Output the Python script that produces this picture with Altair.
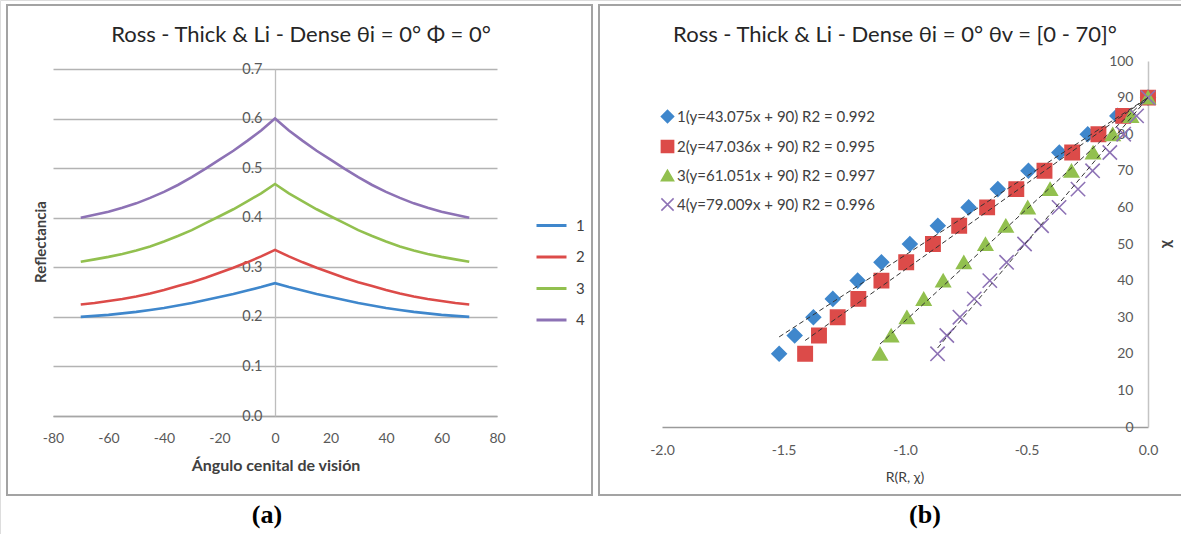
import altair as alt
import pandas as pd

# ---------------- data: panel (a) ----------------
angles = [-70, -65, -60, -55, -50, -45, -40, -35, -30, -25, -20, -15, -10, -5, 0,
          5, 10, 15, 20, 25, 30, 35, 40, 45, 50, 55, 60, 65, 70]
refl_1 = [0.200, 0.202, 0.204, 0.207, 0.210, 0.214, 0.218, 0.223, 0.228, 0.234, 0.240, 0.246, 0.253, 0.260, 0.268,
          0.260, 0.253, 0.246, 0.240, 0.234, 0.228, 0.223, 0.218, 0.214, 0.210, 0.207, 0.204, 0.202, 0.200]
refl_2 = [0.225, 0.228, 0.232, 0.236, 0.241, 0.247, 0.254, 0.262, 0.270, 0.279, 0.289, 0.299, 0.310, 0.322, 0.335,
          0.322, 0.310, 0.299, 0.289, 0.279, 0.270, 0.262, 0.254, 0.247, 0.241, 0.236, 0.232, 0.228, 0.225]
refl_3 = [0.311, 0.316, 0.321, 0.327, 0.334, 0.342, 0.352, 0.363, 0.375, 0.389, 0.403, 0.417, 0.433, 0.449, 0.468,
          0.449, 0.433, 0.417, 0.403, 0.389, 0.375, 0.363, 0.352, 0.342, 0.334, 0.327, 0.321, 0.316, 0.311]
refl_4 = [0.400, 0.406, 0.412, 0.420, 0.429, 0.440, 0.452, 0.466, 0.482, 0.499, 0.517, 0.535, 0.555, 0.576, 0.600,
          0.576, 0.555, 0.535, 0.517, 0.499, 0.482, 0.466, 0.452, 0.440, 0.429, 0.420, 0.412, 0.406, 0.400]
series_a = ["1", "2", "3", "4"]
x_ticks_a = [-80, -60, -40, -20, 0, 20, 40, 60, 80]
y_ticks_a = [0.0, 0.1, 0.2, 0.3, 0.4, 0.5, 0.6, 0.7]

# ---------------- data: panel (b) ----------------
chi = [20, 25, 30, 35, 40, 45, 50, 55, 60, 65, 70, 75, 80, 85, 90]
rr_1 = [-1.518, -1.454, -1.377, -1.297, -1.195, -1.097, -0.980, -0.865, -0.738, -0.618, -0.492, -0.365, -0.248, -0.126, 0.0]
rr_2 = [-1.411, -1.354, -1.277, -1.192, -1.097, -0.995, -0.885, -0.777, -0.662, -0.542, -0.426, -0.312, -0.204, -0.102, 0.0]
rr_3 = [-1.103, -1.057, -0.992, -0.923, -0.843, -0.758, -0.669, -0.585, -0.495, -0.403, -0.315, -0.226, -0.145, -0.070, 0.0]
rr_4 = [-0.866, -0.828, -0.774, -0.715, -0.651, -0.582, -0.508, -0.438, -0.366, -0.288, -0.228, -0.157, -0.100, -0.047, 0.0]
slopes = [43.075, 47.036, 61.051, 79.009]
intercept = 90
series_b = ["1(y=43.075x + 90) R2 = 0.992",
            "2(y=47.036x + 90) R2 = 0.995",
            "3(y=61.051x + 90) R2 = 0.997",
            "4(y=79.009x + 90) R2 = 0.996"]
x_ticks_b = [-2.0, -1.5, -1.0, -0.5, 0.0]
y_ticks_b = [0, 10, 20, 30, 40, 50, 60, 70, 80, 90, 100]

colors = ["#3F87CC", "#DC4B49", "#92C04F", "#8D72B5"]
FONT = "Lato"
LBL = "#595959"
AX = "#A6A6A6"

# ---------------- tables ----------------
rows = []
for s, vals in zip(series_a, [refl_1, refl_2, refl_3, refl_4]):
    for a, v in zip(angles, vals):
        rows.append({"ang": a, "refl": v, "serie": s})
df_a = pd.DataFrame(rows)

rows = []
for s, vals in zip(series_b, [rr_1, rr_2, rr_3, rr_4]):
    for c, v in zip(chi, vals):
        rows.append({"rr": v, "chi": c, "serie": s})
df_b = pd.DataFrame(rows)

rows = []
for s, vals, m in zip(series_b, [rr_1, rr_2, rr_3, rr_4], slopes):
    xmin = min(vals)
    rows.append({"rr": xmin, "chi": m * xmin + intercept, "serie": s})
    rows.append({"rr": 0.0, "chi": float(intercept), "serie": s})
df_t = pd.DataFrame(rows)

# ---------------- panel (a) ----------------
xa_scale = alt.Scale(domain=[-80, 80], range=[53, 497], nice=False, zero=False)
ya_scale = alt.Scale(domain=[0, 0.7], range=[416, 69], nice=False, zero=False)

panel_a = alt.Chart(df_a).mark_line(strokeWidth=2.6).encode(
    x=alt.X("ang:Q", scale=xa_scale,
            axis=alt.Axis(orient="bottom", offset=-118, values=x_ticks_a, grid=False, ticks=False,
                          domain=True, domainColor=AX, domainWidth=1.5, labelPadding=15,
                          labelFontSize=14, labelColor=LBL, labelFont=FONT, title=None,
                          labelFlush=False, labelOverlap=False,
                          labelExpr="datum.value < 0 ? '-' + format(-datum.value, 'd') : format(datum.value, 'd')")),
    y=alt.Y("refl:Q", scale=ya_scale,
            axis=alt.Axis(orient="left", offset=-275, values=y_ticks_a, grid=True, gridColor="#B3B3B3",
                          gridWidth=1.4, ticks=False, domain=True, domainColor="#BDBDBD", domainWidth=1.3,
                          labelPadding=13, format=".1f", labelFontSize=14.5, labelColor=LBL,
                          labelFont=FONT, title=None, labelFlush=False, labelOverlap=False)),
    color=alt.Color("serie:N", scale=alt.Scale(domain=series_a, range=colors),
                    legend=alt.Legend(orient="none", legendX=535, legendY=209, title=None,
                                      symbolType="stroke", symbolSize=900, symbolStrokeWidth=3,
                                      labelFontSize=15, labelFont=FONT, labelColor="#404040",
                                      rowPadding=6.5, labelOffset=8, padding=0)),
    detail="serie:N",
)

# ---------------- panel (b) ----------------
xb_scale = alt.Scale(domain=[-2.0, 0.0], range=[662, 1148], nice=False, zero=False)
yb_scale = alt.Scale(domain=[0, 100], range=[427, 61], nice=False, zero=False)
xb_axis = alt.Axis(orient="bottom", offset=-107, values=x_ticks_b, grid=False, ticks=False,
                   domain=True, domainColor="#9A9A9A", domainWidth=1.5, labelPadding=16,
                   labelFontSize=14, labelColor=LBL, labelFont=FONT, title=None,
                   labelFlush=False, labelOverlap=False,
                   labelExpr="datum.value < 0 ? '-' + format(-datum.value, '.1f') : format(datum.value, '.1f')")
yb_axis = alt.Axis(orient="left", offset=-1148, values=y_ticks_b, grid=False, ticks=False,
                   domain=True, domainColor="#C4C4C4", domainWidth=1.5, labelPadding=15,
                   labelFontSize=14, labelColor=LBL, labelFont=FONT, title=None,
                   labelFlush=False, labelOverlap=False)
leg_b = alt.Legend(orient="none", legendX=660, legendY=109, title=None, symbolSize=150,
                   symbolStrokeWidth=1.5, labelFontSize=15, labelFont=FONT, labelColor="#404040",
                   rowPadding=11, labelOffset=2, padding=0, labelLimit=400)

points_b = alt.Chart(df_b).mark_point(size=205, strokeWidth=1.6, opacity=1).encode(
    x=alt.X("rr:Q", scale=xb_scale, axis=xb_axis),
    y=alt.Y("chi:Q", scale=yb_scale, axis=yb_axis),
    shape=alt.Shape("serie:N", scale=alt.Scale(domain=series_b,
                    range=["diamond", "square", "triangle-up", "M-1,-1L1,1M-1,1L1,-1"]), legend=leg_b),
    fill=alt.Fill("serie:N", scale=alt.Scale(domain=series_b,
                  range=[colors[0], colors[1], colors[2], "transparent"]), legend=leg_b),
    stroke=alt.Stroke("serie:N", scale=alt.Scale(domain=series_b, range=colors), legend=leg_b),
)
trend_b = alt.Chart(df_t).mark_line(color="#333333", strokeWidth=1, strokeDash=[5, 3]).encode(
    x=alt.X("rr:Q", scale=xb_scale, axis=xb_axis),
    y=alt.Y("chi:Q", scale=yb_scale, axis=yb_axis),
    detail="serie:N",
)
panel_b = alt.layer(points_b, trend_b)


# ---------------- decoration / text ----------------
def txt(s, x, y, size, weight="normal", color="#262626", font=FONT, angle=0, baseline="middle"):
    return alt.Chart(pd.DataFrame({"t": [s]})).mark_text(
        fontSize=size, fontWeight=weight, color=color, font=font, angle=angle,
        align="center", baseline=baseline).encode(text="t:N", x=alt.value(x), y=alt.value(y))


def frame(x1, x2, y1, y2):
    return alt.Chart(pd.DataFrame({"f": [0]})).mark_rect(
        fill="transparent", stroke="#A3A3A3", strokeWidth=2).encode(
        x=alt.value(x1), x2=alt.value(x2), y=alt.value(y1), y2=alt.value(y2))


decor = [
    frame(7, 592, 5, 495),
    frame(599, 1195, 5, 495),
    txt("Ross - Thick & Li - Dense θi = 0° Φ = 0°", 301, 42, 22, baseline="alphabetic"),
    txt("Ross - Thick & Li - Dense θi = 0° θv = [0 - 70]°", 895, 42, 22, baseline="alphabetic"),
    txt("Ángulo cenital de visión", 276, 466, 16, weight="bold", color="#404040"),
    txt("Reflectancia", 41, 242, 15, weight="bold", color="#404040", angle=270),
    txt("R(R, χ)", 905, 478, 14, color="#404040"),
    txt("χ", 1170, 244, 16, weight="bold", color="#404040", angle=90),
    txt("(a)", 267, 515, 26, weight="bold", color="#000000", font="Liberation Serif"),
    txt("(b)", 925, 515, 26, weight="bold", color="#000000", font="Liberation Serif"),
]

chart = alt.layer(*decor[:2], panel_a, panel_b, *decor[2:]).resolve_scale(
    x="independent", y="independent"
).properties(
    width=1181, height=534, padding=0,
    autosize=alt.AutoSizeParams(type="none"),
).configure_view(strokeWidth=0).configure(background="white")

chart.save("out.html", embed_options={"renderer": "svg", "actions": False})
